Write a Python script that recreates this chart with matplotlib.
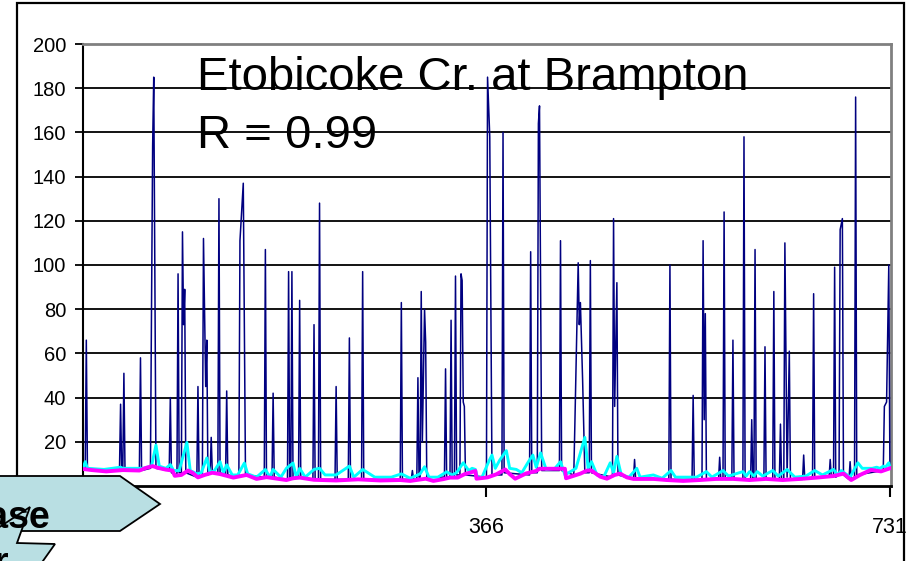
import matplotlib
matplotlib.use("Agg")
import matplotlib.pyplot as plt
from matplotlib.patches import Polygon, Rectangle

# Daily streamflow record, day index 1..731 (two years)
flow_days = [1, 3, 4, 5, 34, 35, 36, 37, 38, 39, 52, 53, 54, 62, 64, 65, 67,
             79, 80, 81, 86, 87, 88, 90, 91, 92, 93, 94, 104, 105, 106, 109, 110,
             112, 113, 114, 116, 117, 118, 123, 124, 125, 130, 131, 132, 142, 143,
             146, 148, 165, 166, 167, 172, 173, 174, 186, 187, 188, 189, 190, 191,
             196, 197, 198, 209, 210, 211, 214, 215, 216, 229, 230, 231, 241, 242,
             243, 253, 254, 255, 288, 289, 290, 298, 299, 300, 303, 304, 305, 306,
             307, 308, 310, 311, 312, 328, 329, 330, 333, 334, 335, 337, 338, 339,
             342, 343, 344, 345, 346, 347, 366, 367, 369, 371, 380, 381, 382, 405,
             406, 407, 412, 413, 414, 416, 432, 433, 434, 445, 446, 449, 450, 451,
             453, 455, 459, 460, 461, 480, 481, 482, 484, 485, 499, 500, 501, 531,
             532, 533, 552, 553, 554, 561, 562, 563, 564, 565, 576, 577, 578, 580,
             581, 582, 588, 589, 590, 598, 599, 600, 605, 606, 607, 608, 609, 610,
             617, 618, 619, 625, 626, 627, 631, 632, 633, 635, 636, 638, 640, 641,
             652, 653, 654, 661, 662, 663, 676, 677, 678, 680, 681, 682, 685, 686,
             688, 689, 694, 695, 696, 699, 700, 701, 725, 726, 728, 730, 731]
flow_vals = [8, 8, 66, 8, 7, 37, 7, 7, 51, 7, 7, 58, 7, 8, 154, 185, 8,
             7, 40, 6, 5, 96, 6, 6, 115, 73, 89, 6, 4, 45, 4, 5, 112,
             45, 66, 5, 6, 22, 6, 6, 130, 6, 5, 43, 5, 4, 111,
             137, 5, 4, 107, 4, 4, 42, 4, 3, 97, 3, 3, 97, 3,
             4, 84, 4, 3, 73, 3, 3, 128, 3, 3, 45, 3, 3, 67,
             3, 3, 97, 3, 3, 83, 3, 3, 7, 3, 3, 49, 4, 4,
             88, 20, 80, 65, 4, 4, 53, 4, 4, 75, 4, 4, 95, 5,
             5, 96, 93, 38, 36, 5, 4, 185, 158, 5, 5, 160, 6, 5,
             106, 6, 6, 164, 172, 7, 7, 111, 7, 5, 28, 101, 73, 83,
             48, 6, 6, 102, 6, 4, 121, 36, 92, 5, 3, 12, 3, 3,
             100, 3, 3, 41, 3, 3, 111, 30, 78, 3, 3, 13, 3, 3,
             124, 3, 3, 66, 3, 3, 158, 3, 3, 30, 3, 3, 107, 3,
             3, 63, 3, 3, 88, 3, 3, 28, 3, 3, 110, 4, 61, 3,
             3, 14, 3, 4, 87, 4, 4, 12, 4, 4, 99, 4, 5, 116,
             121, 5, 3, 11, 3, 4, 176, 5, 7, 36, 38, 100, 8]

# Filtered flow
filt_days = [1, 3, 5, 20, 35, 37, 55, 63, 67, 70, 76, 80, 83, 88, 95, 98, 104,
             108, 113, 116, 120, 125, 128, 131, 136, 141, 147, 150, 158, 166, 170,
             173, 180, 185, 191, 194, 197, 202, 210, 215, 220, 230, 242, 246, 254,
             265, 280, 289, 297, 306, 310, 314, 322, 330, 335, 339, 345, 350, 353,
             356, 358, 362, 368, 371, 374, 378, 384, 387, 393, 398, 404, 408, 411,
             415, 420, 428, 433, 437, 442, 447, 455, 458, 461, 466, 472, 478, 481,
             484, 488, 495, 502, 505, 517, 525, 533, 537, 550, 556, 565, 570, 580,
             585, 598, 601, 604, 608, 611, 616, 625, 630, 638, 645, 655, 663, 670,
             680, 684, 687, 695, 702, 706, 710, 715, 719, 722, 725, 727, 730, 731]
filt_vals = [8, 11, 8, 7.5, 8.5, 8, 8, 9, 18.5, 9, 8, 9.7, 7, 7, 19.7, 7, 5.5,
             6, 12.7, 6, 7, 11, 6, 9.6, 5, 5, 10.4, 5.5, 4, 7.5, 4,
             7.5, 4, 8, 10.4, 4, 8, 4, 7.5, 8, 5, 5, 9, 4, 7.5,
             4, 4, 5.5, 3.5, 5.5, 8.7, 4, 4, 6.4, 5, 6, 10.5, 7, 8,
             7.5, 3.5, 4, 11, 14, 8, 11.7, 16, 8, 7.5, 6, 11, 14, 8.5,
             15, 7.5, 8, 11, 5, 6.5, 8, 22, 8, 11, 5, 4, 10.5, 6,
             13.4, 5, 4, 8, 4, 5, 3.5, 7, 4, 4, 4, 6.5, 4, 7,
             4.5, 6.5, 4.5, 6.5, 4.5, 6.5, 4.5, 7, 4.5, 7.5, 4, 4.5, 7, 5,
             7.5, 5, 7, 4, 10.5, 8, 8, 8, 8.5, 8, 9, 8.5, 10.5, 8.5]

# Baseflow
base_days = [1, 9, 22, 37, 52, 58, 64, 69, 76, 82, 84, 90, 96, 100, 105, 111,
             118, 125, 137, 149, 158, 167, 185, 191, 197, 210, 230, 250, 270, 288,
             297, 311, 318, 327, 333, 340, 346, 356, 357, 367, 375, 383, 387, 392,
             402, 411, 414, 420, 437, 438, 451, 457, 461, 469, 475, 482, 487, 493,
             499, 517, 529, 544, 559, 574, 589, 604, 619, 634, 650, 665, 680, 689,
             696, 704, 714, 723, 731]
base_vals = [7.7, 7.2, 6.6, 7.2, 7, 8.2, 9, 8.2, 7.4, 7, 4.6, 5, 7, 6, 3.9, 5,
             6, 5.4, 3.8, 5, 3.2, 4, 2.7, 3.5, 3.8, 2.8, 2.5, 3, 2.5, 2.7,
             2.3, 3.3, 2.3, 3.1, 3.8, 3.8, 5.3, 6.8, 3.3, 3.9, 5.3, 7.5, 5.4, 3.3,
             5.7, 6.8, 7.8, 7.8, 7.8, 3.5, 5.6, 7, 7, 4.2, 3.3, 5, 5.6, 3.9,
             3.2, 3.2, 2.7, 2.3, 2.7, 3.2, 3.2, 2.7, 3.2, 2.7, 3.2, 3.8, 4.5, 5.6,
             2.7, 5, 7.3, 6.6, 8]

y_ticks = list(range(0, 201, 20))
x_ticks = [1, 366, 731]
x_labels = ["", "366", "731"]

W, H = 912, 561
fig = plt.figure(figsize=(W / 100, H / 100), dpi=100)
fig.patch.set_facecolor("white")

def fx(px):
    return px / W

def fy(py):
    return 1 - py / H

sans = "Liberation Sans"

ax = fig.add_axes([fx(83), fy(486), fx(891) - fx(83), fy(44) - fy(486)])
ax.set_xlim(1, 732)
ax.set_ylim(0, 200)

for v in y_ticks[1:-1]:
    ax.axhline(v, color="black", lw=1.3, zorder=1)

ax.plot(flow_days, flow_vals, color="#000080", lw=1.1, zorder=3)
ax.plot(filt_days, filt_vals, color="#00ffff", lw=2.1, zorder=4)
ax.plot(base_days, base_vals, color="#ff00ff", lw=2.8, zorder=5)

for side in ("top", "right"):
    ax.spines[side].set_color("#808080")
    ax.spines[side].set_linewidth(2)
ax.spines["left"].set_linewidth(1.5)
ax.spines["bottom"].set_linewidth(2)

ax.set_yticks(y_ticks)
ax.set_yticklabels([str(v) for v in y_ticks], family=sans, fontsize=14.5)
ax.set_xticks(x_ticks)
ax.set_xticklabels(x_labels, family=sans, fontsize=15.5)
ax.tick_params(axis="y", direction="out", length=6, width=1.3, pad=6)
ax.tick_params(axis="x", direction="out", length=8, width=1.5, pad=14)

ax.text(fx(197), fy(90), "Etobicoke Cr. at Brampton", transform=fig.transFigure,
        fontsize=34, family=sans, va="baseline", ha="left", zorder=6)
ax.text(fx(197), fy(148), "R = 0.99", transform=fig.transFigure,
        fontsize=34, family=sans, va="baseline", ha="left", zorder=6)

# chart frame
fig.patches.append(Rectangle((fx(17), fy(600)), fx(904) - fx(17), fy(3) - fy(600),
                             transform=fig.transFigure, fill=False,
                             ec="black", lw=1.6, zorder=10))

# callout shapes in the lower-left corner
fill = "#b9dfe3"
arrow = [(-5, 476), (120, 476), (160, 504), (120, 531), (-5, 531)]
fig.patches.append(Polygon([(fx(a), fy(b)) for a, b in arrow], closed=True,
                           transform=fig.transFigure, fc=fill, ec="black",
                           lw=1.3, zorder=11))
burst = [(-5, 530), (30, 507), (17, 543), (55, 544), (33, 575), (-5, 575)]
fig.patches.append(Polygon([(fx(a), fy(b)) for a, b in burst], closed=True,
                           transform=fig.transFigure, fc=fill, ec="black",
                           lw=1.3, zorder=12))
fig.text(fx(50), fy(528), "Base", fontsize=27, fontweight="bold",
         family=sans, ha="right", va="baseline", zorder=13)
fig.text(fx(9), fy(574), "Filter", fontsize=27, fontweight="bold",
         family=sans, ha="right", va="baseline", zorder=13)

fig.savefig("out.png", dpi=100)
